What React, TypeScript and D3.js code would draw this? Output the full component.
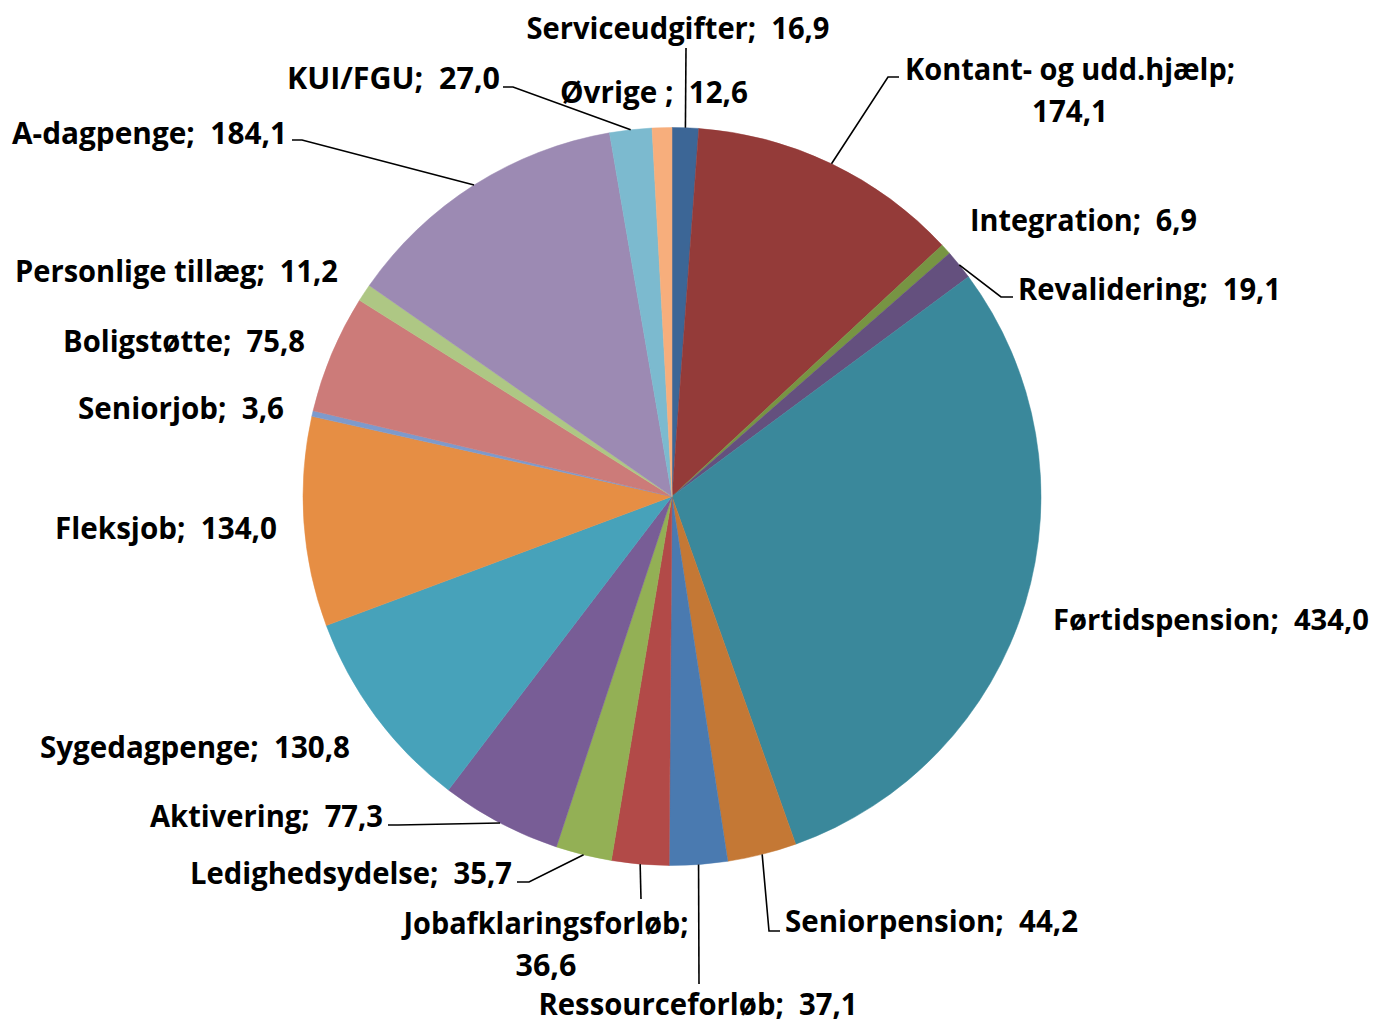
import React from "react";
import * as d3 from "d3";

const categories = [
  "Serviceudgifter",
  "Kontant- og udd.hjælp",
  "Integration",
  "Revalidering",
  "Førtidspension",
  "Seniorpension",
  "Ressourceforløb",
  "Jobafklaringsforløb",
  "Ledighedsydelse",
  "Aktivering",
  "Sygedagpenge",
  "Fleksjob",
  "Seniorjob",
  "Boligstøtte",
  "Personlige tillæg",
  "A-dagpenge",
  "KUI/FGU",
  "Øvrige ",
];

const values = [16.9, 174.1, 6.9, 19.1, 434.0, 44.2, 37.1, 36.6, 35.7, 77.3, 130.8, 134.0, 3.6, 75.8, 11.2, 184.1, 27.0, 12.6];

const colors = [
  "#3C6696", "#943B39", "#779443", "#64507E", "#3A889B", "#C47835",
  "#4A7AB0", "#B24A48", "#93B055", "#785D96", "#47A2BA", "#E68E44",
  "#7D9ACC", "#CC7B79", "#AEC784", "#9C8AB3", "#7CBACF", "#F7AE7C",
];

// label layout: x, y (vertical centre of first line), anchor, widths of the text lines, leader path points after the arc point
type Lay = { x: number; y: number; anchor: "start" | "middle" | "end"; w: number[]; fs?: number; split?: boolean; leader?: [number, number][] };
const layout: Lay[] = [
  { x: 678, y: 27, anchor: "middle", w: [303], leader: [[686, 48]] },
  { x: 1070, y: 68, anchor: "middle", w: [330, 76], split: true, leader: [[888, 77], [899, 77]] },
  { x: 970, y: 219, anchor: "start", w: [227] },
  { x: 1018, y: 288, anchor: "start", w: [263], leader: [[1001, 297], [1013, 297]] },
  { x: 1053, y: 618, anchor: "start", w: [316], fs: 29 },
  { x: 785, y: 920, anchor: "start", w: [293], leader: [[769, 931], [780, 931]] },
  { x: 698, y: 1003, anchor: "middle", w: [319], leader: [[699, 984]] },
  { x: 546, y: 922, anchor: "middle", w: [285, 61], split: true, leader: [[641, 899]] },
  { x: 512, y: 872, anchor: "end", w: [322], leader: [[529, 882], [517, 882]] },
  { x: 383, y: 815, anchor: "end", w: [233], leader: [[398, 825], [388, 825]] },
  { x: 350, y: 746, anchor: "end", w: [310] },
  { x: 277, y: 527, anchor: "end", w: [222] },
  { x: 284, y: 407, anchor: "end", w: [206] },
  { x: 305, y: 340, anchor: "end", w: [242] },
  { x: 338, y: 270, anchor: "end", w: [323] },
  { x: 287, y: 132, anchor: "end", w: [275], leader: [[302, 140], [292, 140]] },
  { x: 500, y: 77, anchor: "end", w: [213], leader: [[513, 87], [503, 87]] },
  { x: 654, y: 91, anchor: "middle", w: [188] },
];

const fmt = (v: number) => v.toFixed(1).replace(".", ",");

export default function App() {
  const W = 1376, H = 1022;
  const cx = 672, cy = 496.5, r = 369;
  const pie = d3.pie<number>().sort(null).value((d) => d).startAngle(0).endAngle(2 * Math.PI);
  const arcs = pie(values);
  const arc = d3.arc<d3.PieArcDatum<number>>().innerRadius(0).outerRadius(r);
  const edge = d3.arc<d3.PieArcDatum<number>>().innerRadius(r).outerRadius(r);
  const line = d3.line();

  return (
    <svg width={W} height={H} style={{ position: "absolute", left: 0, top: 0, background: "#fff" }}
      fontFamily="'Open Sans', Lato, sans-serif" fontWeight="bold">
      <g transform={`translate(${cx},${cy})`}>
        {arcs.map((a, i) => (
          <path key={i} d={arc(a) || ""} fill={colors[i]} stroke={colors[i]} strokeWidth={0.5} />
        ))}
      </g>
      {arcs.map((a, i) => {
        const L = layout[i];
        if (!L.leader) return null;
        const [px, py] = edge.centroid(a);
        const pts: [number, number][] = [[px + cx, py + cy], ...L.leader];
        return <path key={"l" + i} d={line(pts) || ""} fill="none" stroke="#000" strokeWidth={1.6} />;
      })}
      {categories.map((c, i) => {
        const L = layout[i];
        const lines = L.split ? [`${c};`, fmt(values[i])] : [`${c};  ${fmt(values[i])}`];
        return lines.map((s, j) => (
          <text key={"t" + i + "_" + j} x={L.x} y={L.y + j * 42} textAnchor={L.anchor} fontSize={L.fs || 30} fill="#000"
            dominantBaseline="central" style={{ whiteSpace: "pre" }}
            textLength={L.w[j]} lengthAdjust="spacingAndGlyphs">
            {s}
          </text>
        ));
      })}
    </svg>
  );
}
